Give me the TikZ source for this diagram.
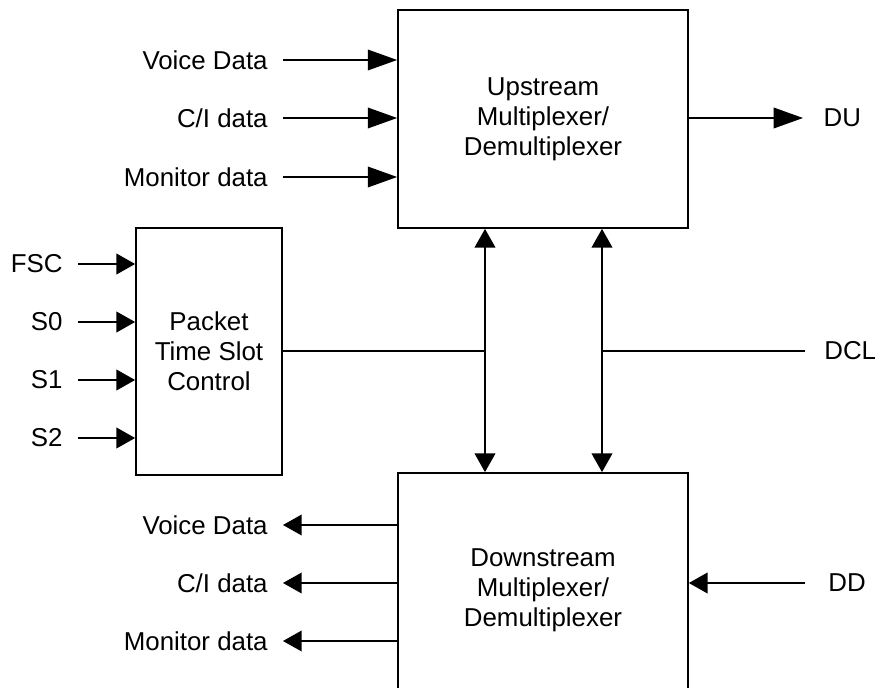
\documentclass[tikz,border=0pt]{standalone}
\usepackage{fontspec}
\setmainfont{Liberation Sans}
\usetikzlibrary{arrows.meta}
\tikzset{
  blk/.style={draw,line width=1.3pt,align=center},
  inlbl/.style={anchor=east,inner xsep=11pt},
  outlbl/.style={anchor=west,inner xsep=14pt},
  arr/.style={-{Triangle[length=14pt,width=15.5pt]}},
  longarr/.style={-{Triangle[length=22pt,width=15.5pt]}},
  both/.style={{Triangle[length=14pt,width=15.5pt]}-{Triangle[length=14pt,width=15.5pt]}}
}
\begin{document}
\begin{tikzpicture}[x=0.75pt,y=-0.75pt,line width=1.05pt,font=\fontsize{19.4}{22.5}\selectfont]
\clip (0,0) rectangle (875,688);
% blocks
\node[blk,minimum width=217.5pt,minimum height=163.5pt] (up) at (543,119) {Upstream\\Multiplexer/\\Demultiplexer};
\node[blk,minimum width=217.5pt,minimum height=175.5pt] (down) at (543,590) {Downstream\\Multiplexer/\\Demultiplexer};
\node[blk,minimum width=109.5pt,minimum height=185.25pt] (pts) at (209,351.5) {Packet\\Time Slot\\Control};
% upstream inputs
\node[inlbl] (vdin) at (283,60) {Voice Data};
\node[inlbl] (ciin) at (283,118) {C/I data};
\node[inlbl] (mdin) at (283,177) {Monitor data};
\draw[longarr] (vdin.east) -- (vdin.east -| up.west);
\draw[longarr] (ciin.east) -- (ciin.east -| up.west);
\draw[longarr] (mdin.east) -- (mdin.east -| up.west);
\node[outlbl,inner xsep=15pt] (du) at (803,118) {DU};
\draw[longarr] (up.east |- du.west) -- (du.west);
% time slot control inputs
\node[inlbl] (fsc) at (78,264) {FSC};
\node[inlbl] (szero) at (78,322) {S0};
\node[inlbl] (sone) at (78,380) {S1};
\node[inlbl] (stwo) at (78,438) {S2};
\draw[arr] (fsc.east) -- (fsc.east -| pts.west);
\draw[arr] (szero.east) -- (szero.east -| pts.west);
\draw[arr] (sone.east) -- (sone.east -| pts.west);
\draw[arr] (stwo.east) -- (stwo.east -| pts.west);
% bus between the two blocks
\coordinate (busL) at (485,351);
\coordinate (busR) at (602,351);
\draw[both] (busL |- up.south) -- (busL |- down.north);
\draw[both] (busR |- up.south) -- (busR |- down.north);
\draw (pts.east |- busL) -- (busL);
\node[outlbl] (dcl) at (805,351) {DCL};
\draw (busR) -- (dcl.west);
% downstream outputs
\node[inlbl] (vdout) at (283,525) {Voice Data};
\node[inlbl] (ciout) at (283,583) {C/I data};
\node[inlbl] (mdout) at (283,641) {Monitor data};
\draw[arr] (down.west |- vdout.east) -- (vdout.east);
\draw[arr] (down.west |- ciout.east) -- (ciout.east);
\draw[arr] (down.west |- mdout.east) -- (mdout.east);
\node[outlbl,inner xsep=17pt] (dd) at (805,583) {DD};
\draw[arr] (dd.west) -- (dd.west -| down.east);
\end{tikzpicture}
\end{document}
